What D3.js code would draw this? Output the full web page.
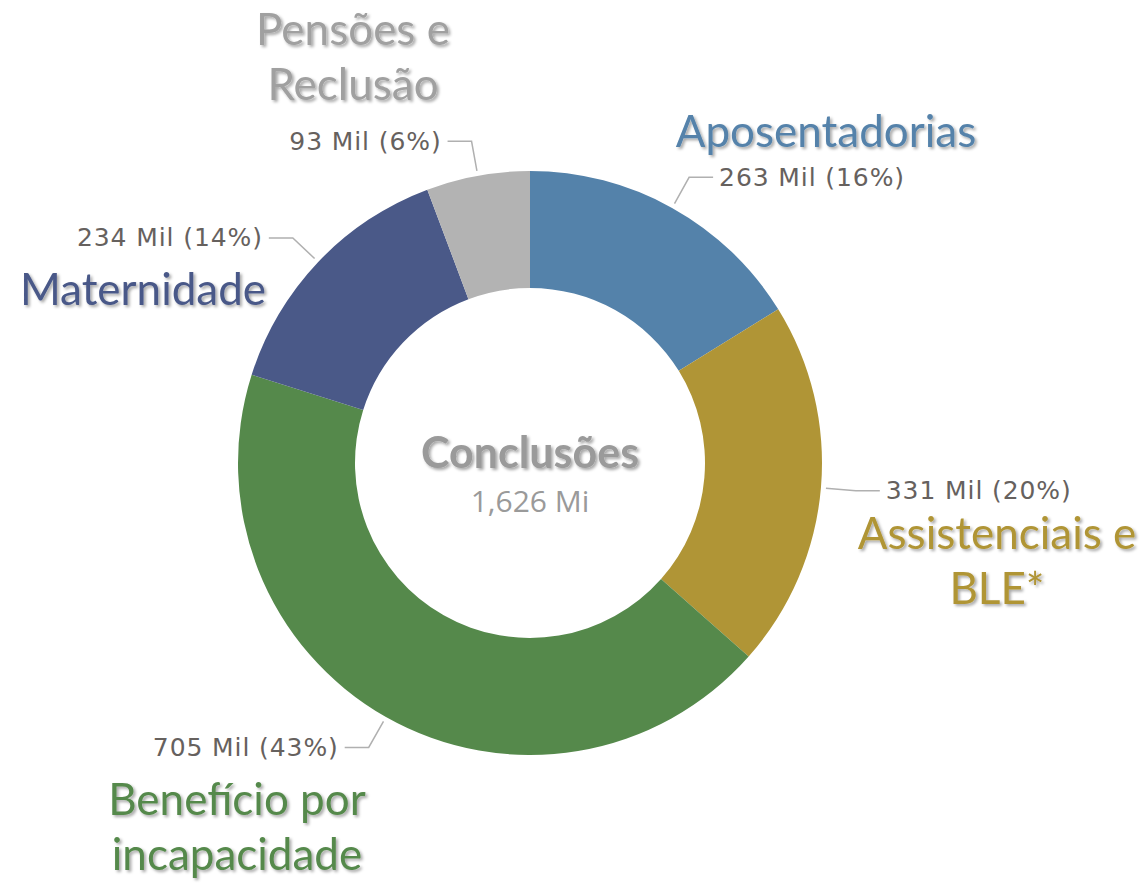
<!DOCTYPE html>
<html>
<head>
<meta charset="utf-8">
<script src="https://cdn.jsdelivr.net/npm/d3@7"></script>
<style>
  body { margin: 0; background: #fff; }
  svg { display: block; }
  .val { font-family: "DejaVu Sans", sans-serif; font-size: 25px; letter-spacing: 0.9px; fill: #66615e; }
  .cat { font-family: Lato, "Open Sans", sans-serif; font-size: 44px; }
</style>
</head>
<body>
<svg width="1145" height="885"></svg>
<script>
// data
var categories = ["Aposentadorias", "Assistenciais e BLE*", "Benefício por incapacidade", "Maternidade", "Pensões e Reclusão"];
var values = [263, 331, 705, 234, 93];          // mil
var valueLabels = ["263 Mil (16%)", "331 Mil (20%)", "705 Mil (43%)", "234 Mil (14%)", "93 Mil (6%)"];
var colors = ["#5482aa", "#b09536", "#55894b", "#4a5988", "#b3b3b3"];
var centerTitle = "Conclusões";
var centerValue = "1,626 Mi";

var svg = d3.select("svg"),
    cx = 530, cy = 463,
    outerR = 292, innerR = 175;

var defs = svg.append("defs");
var f = defs.append("filter").attr("id", "shadow")
    .attr("x", "-10%").attr("y", "-20%").attr("width", "130%").attr("height", "160%");
f.append("feDropShadow")
    .attr("dx", 2).attr("dy", 2).attr("stdDeviation", 1.5)
    .attr("flood-color", "#000").attr("flood-opacity", 0.35);

var g = svg.append("g").attr("transform", "translate(" + cx + "," + cy + ")");

var pie = d3.pie().sort(null).value(function(d) { return d; });
var arcs = pie(values);

var arc = d3.arc().innerRadius(innerR).outerRadius(outerR);

g.selectAll("path.slice")
  .data(arcs)
  .enter().append("path")
    .attr("class", "slice")
    .attr("d", arc)
    .attr("fill", function(d, i) { return colors[i]; });

// LEADER LINES + VALUE LABELS

var startArc = d3.arc().innerRadius(297).outerRadius(297);
var elbowArc = d3.arc().innerRadius(327).outerRadius(327);

arcs.forEach(function(d, i) {
  var p1 = startArc.centroid(d),
      p2 = elbowArc.centroid(d);
  var mid = (d.startAngle + d.endAngle) / 2;
  var side = mid < Math.PI ? 1 : -1;
  var p3 = [p2[0] + side * 24, p2[1]];
  g.append("polyline")
      .attr("points", [p1, p2, p3].map(function(p) { return p.join(","); }).join(" "))
      .attr("fill", "none")
      .attr("stroke", "#b0b0b0")
      .attr("stroke-width", 1.5);
  g.append("text")
      .attr("class", "val")
      .attr("x", p3[0] + side * 6)
      .attr("y", p3[1])
      .attr("dy", "0.33em")
      .attr("text-anchor", side > 0 ? "start" : "end")
      .text(valueLabels[i]);
});

// CATEGORY TITLES (position relative to chart center)

var titlePos = [
  { lines: ["Aposentadorias"], x: 296, y: -316 },
  { lines: ["Assistenciais e", "BLE*"], x: 467, y: 86 },
  { lines: ["Benefício por", "incapacidade"], x: -293, y: 352 },
  { lines: ["Maternidade"], x: -387, y: -158 },
  { lines: ["Pensões e", "Reclusão"], x: -177, y: -418 }
];

titlePos.forEach(function(t, i) {
  var txt = g.append("text")
      .attr("class", "cat")
      .attr("x", t.x)
      .attr("y", t.y)
      .attr("text-anchor", "middle")
      .attr("fill", i == 4 ? "#a0a0a0" : colors[i])
      .attr("filter", "url(#shadow)");
  t.lines.forEach(function(l, j) {
    txt.append("tspan").attr("x", t.x).attr("dy", j == 0 ? 0 : 55).text(l);
  });
});

// CENTER

g.append("text")
    .attr("text-anchor", "middle")
    .attr("y", 5)
    .attr("font-family", "Lato, sans-serif")
    .attr("font-weight", "bold")
    .attr("font-size", 43)
    .attr("fill", "#9a9a9a")
    .attr("filter", "url(#shadow)")
    .text(centerTitle);

g.append("text")
    .attr("text-anchor", "middle")
    .attr("y", 49)
    .attr("font-family", "'Open Sans', sans-serif")
    .attr("font-size", 30)
    .attr("fill", "#9a9a9a")
    .text(centerValue);
</script>
</body>
</html>
